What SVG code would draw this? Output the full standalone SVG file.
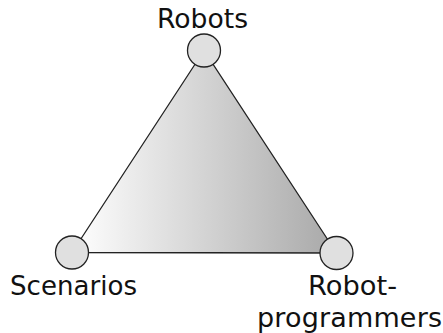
<svg xmlns="http://www.w3.org/2000/svg" width="443" height="333" viewBox="0 0 443 333">
<style>
.node circle{fill:#e0e0e0;stroke:#222;stroke-width:1.3}
.lbl{font-family:"DejaVu Sans",sans-serif;font-size:27px;fill:#111}
</style>
<defs>
<linearGradient id="g" x1="0" y1="0" x2="1" y2="0">
<stop offset="0" stop-color="#ffffff"/>
<stop offset="1" stop-color="#a8a8a8"/>
</linearGradient>
</defs>
<rect width="443" height="333" fill="#fff"/>
<g id="connectors">
<polygon points="204,50.5 72,252.5 336.5,253" fill="url(#g)" stroke="#222" stroke-width="1.3"/>
</g>
<g id="robots" class="node"><circle cx="204" cy="50.5" r="16.5"/><text class="lbl" x="157" y="28" textLength="91" lengthAdjust="spacingAndGlyphs">Robots</text></g>
<g id="scenarios" class="node"><circle cx="72" cy="252.5" r="16.5"/><text class="lbl" x="10" y="295" textLength="127" lengthAdjust="spacingAndGlyphs">Scenarios</text></g>
<g id="programmers" class="node"><circle cx="336.5" cy="253" r="16.5"/><text class="lbl" x="308" y="295" textLength="89" lengthAdjust="spacingAndGlyphs">Robot-</text><text class="lbl" x="257" y="327" textLength="185" lengthAdjust="spacing">programmers</text></g>
</svg>
